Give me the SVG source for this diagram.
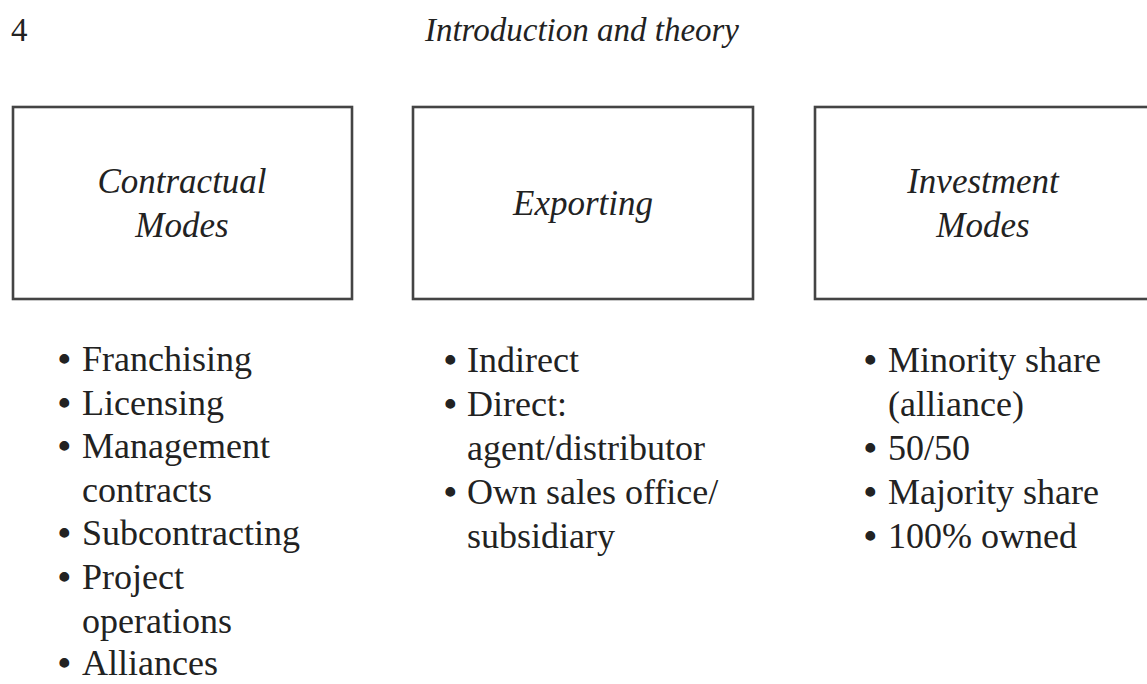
<svg xmlns="http://www.w3.org/2000/svg" width="1147" height="684" viewBox="0 0 1147 684">
<style>
.box{fill:#fff;stroke:#444;stroke-width:2.6}
.title{font-family:"Liberation Serif",serif;font-style:italic;font-size:35px;fill:#222;text-anchor:middle}
.item{font-family:"Liberation Serif",serif;font-size:36px;fill:#222}
.b{font-weight:bold}
.hdr{font-family:"Liberation Serif",serif;font-size:33px;fill:#222}
</style>
<rect width="1147" height="684" fill="#fff"/>
<text class="hdr" x="11" y="41">4</text>
<text class="hdr" x="582" y="41" font-style="italic" text-anchor="middle">Introduction and theory</text>
<g id="connectors"></g>
<g id="contractual">
<rect class="box" x="13" y="107" width="339" height="192"/>
<text class="title" x="182" y="193">Contractual</text>
<text class="title" x="182" y="237">Modes</text>
<text class="item" y="371">
<tspan class="b" x="58">•</tspan><tspan x="82">Franchising</tspan>
<tspan class="b" x="58" y="414.6">•</tspan><tspan x="82">Licensing</tspan>
<tspan class="b" x="58" y="458.2">•</tspan><tspan x="82">Management</tspan>
<tspan x="82" y="501.8">contracts</tspan>
<tspan class="b" x="58" y="545.4">•</tspan><tspan x="82">Subcontracting</tspan>
<tspan class="b" x="58" y="589">•</tspan><tspan x="82">Project</tspan>
<tspan x="82" y="632.6">operations</tspan>
<tspan class="b" x="58" y="675">•</tspan><tspan x="82">Alliances</tspan>
</text>
</g>
<g id="exporting">
<rect class="box" x="413" y="107" width="340" height="192"/>
<text class="title" x="583" y="215">Exporting</text>
<text class="item" y="372">
<tspan class="b" x="444">•</tspan><tspan x="467">Indirect</tspan>
<tspan class="b" x="444" y="416">•</tspan><tspan x="467">Direct:</tspan>
<tspan x="467" y="460">agent/distributor</tspan>
<tspan class="b" x="444" y="504">•</tspan><tspan x="467">Own sales office/</tspan>
<tspan x="467" y="548">subsidiary</tspan>
</text>
</g>
<g id="investment">
<rect class="box" x="815" y="107" width="345" height="192"/>
<text class="title" x="983" y="193">Investment</text>
<text class="title" x="983" y="237">Modes</text>
<text class="item" y="372">
<tspan class="b" x="864">•</tspan><tspan x="888">Minority share</tspan>
<tspan x="888" y="416">(alliance)</tspan>
<tspan class="b" x="864" y="460">•</tspan><tspan x="888">50/50</tspan>
<tspan class="b" x="864" y="504">•</tspan><tspan x="888">Majority share</tspan>
<tspan class="b" x="864" y="548">•</tspan><tspan x="888">100% owned</tspan>
</text>
</g>
</svg>
